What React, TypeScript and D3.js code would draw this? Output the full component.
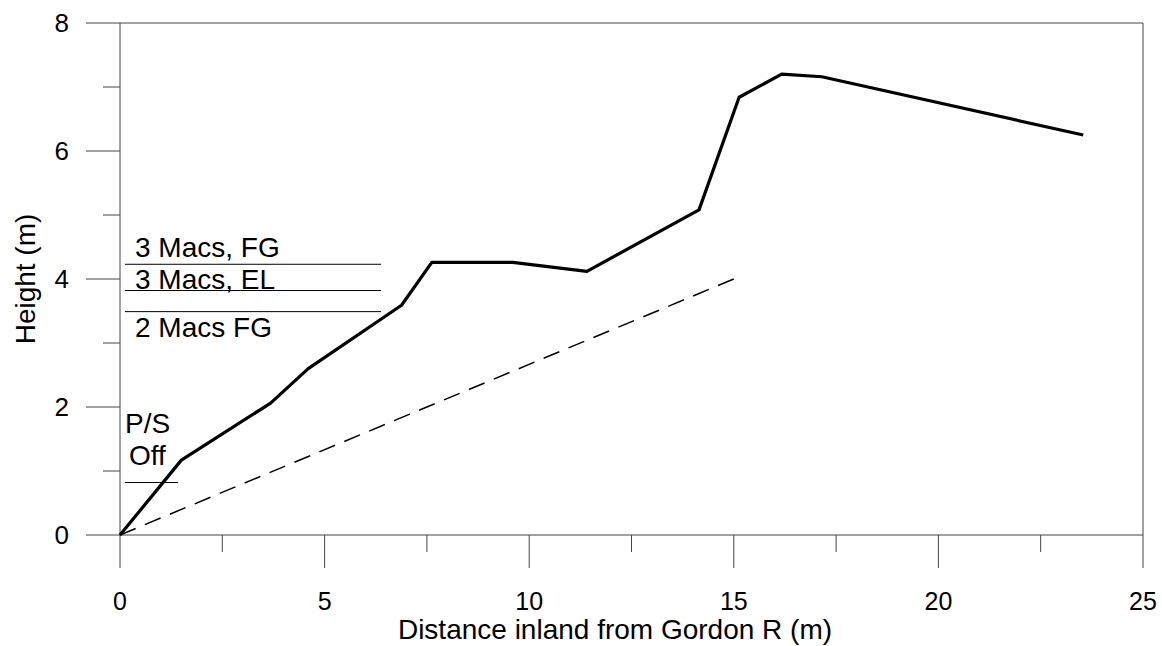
import React from 'react';
import * as d3 from 'd3';

// profile of the bank (distance, height)
const profileX = [0, 1.5, 3.68, 4.6, 6.88, 7.62, 9.6, 11.41, 14.15, 15.13, 16.17, 17.15, 23.54];
const profileY = [0, 1.17, 2.06, 2.6, 3.59, 4.26, 4.26, 4.12, 5.08, 6.84, 7.2, 7.16, 6.25];

// dashed reference line
const refX = [0, 15];
const refY = [0, 4];

// flood level markers
const markerLabels = ['3 Macs, FG', '3 Macs, EL', '2 Macs FG', 'P/S Off'];
const markerLevels = [4.23, 3.82, 3.49, 0.82];
const markerEnds = [6.38, 6.38, 6.38, 1.42];

const xMajor = [0, 5, 10, 15, 20, 25];
const xMinor = [2.5, 7.5, 12.5, 17.5, 22.5];
const yMajor = [0, 2, 4, 6, 8];
const yMinor = [1, 3, 5, 7];

const W = 1162;
const H = 646;
const font = 'Liberation Sans, Arial, sans-serif';
const fs = 28;

export default function App() {
  const x = d3.scaleLinear().domain([0, 25]).range([120, 1143]);
  const y = d3.scaleLinear().domain([0, 8]).range([535, 23]);

  const line = d3.line<[number, number]>()
    .x(d => x(d[0]))
    .y(d => y(d[1]));

  const profile = profileX.map((v, i) => [v, profileY[i]] as [number, number]);
  const ref = refX.map((v, i) => [v, refY[i]] as [number, number]);

  const axisCol = '#444';
  const x0 = x(0), y0 = y(0);

  return (
    <svg width={W} height={H} style={{ position: 'absolute', left: 0, top: 0, background: '#fff' }}
      fontFamily={font}>
      {/* frame */}
      <line x1={x0} x2={x0} y1={y(8)} y2={y0} stroke={axisCol} />
      <line x1={x(25)} x2={x(25)} y1={y(8)} y2={y0} stroke={axisCol} />
      <line x1={x0} x2={x(25)} y1={y0} y2={y0} stroke={axisCol} />
      <line x1={x0} x2={x(25)} y1={y(8)} y2={y(8)} stroke={axisCol} />

      {/* y ticks */}
      {yMajor.map(v => (
        <g key={'ym' + v}>
          <line x1={x0 - 34} x2={x0} y1={y(v)} y2={y(v)} stroke={axisCol} />
          <text x={69} y={y(v)} dy="0.36em" textAnchor="end" fontSize={26}>{v}</text>
        </g>
      ))}
      {yMinor.map(v => (
        <line key={'yn' + v} x1={x0 - 17} x2={x0} y1={y(v)} y2={y(v)} stroke={axisCol} />
      ))}

      {/* x ticks */}
      {xMajor.map(v => (
        <g key={'xm' + v}>
          <line x1={x(v)} x2={x(v)} y1={y0} y2={y0 + 33} stroke={axisCol} />
          <text x={x(v)} y={601} dy="0.36em" textAnchor="middle" fontSize={25}>{v}</text>
        </g>
      ))}
      {xMinor.map(v => (
        <line key={'xn' + v} x1={x(v)} x2={x(v)} y1={y0} y2={y0 + 17} stroke={axisCol} />
      ))}

      <text x={615} y={639} textAnchor="middle" fontSize={fs}>Distance inland from Gordon R (m)</text>
      <text transform={`translate(25,${y(4)}) rotate(-90)`} dy="0.36em" textAnchor="middle" fontSize={fs}>Height (m)</text>

      {/* marker lines */}
      {markerLevels.map((v, i) => (
        <line key={'mk' + i} x1={x(0.12)} x2={x(markerEnds[i])} y1={y(v)} y2={y(v)} stroke="#000" strokeWidth={1} />
      ))}
      <text x={135} y={257} fontSize={fs}>{markerLabels[0]}</text>
      <text x={135} y={289} fontSize={fs}>{markerLabels[1]}</text>
      <text x={135} y={337} fontSize={fs}>{markerLabels[2]}</text>
      <text x={125} y={433} fontSize={fs}>{markerLabels[3].split(' ')[0]}</text>
      <text x={129} y={465} fontSize={fs}>{markerLabels[3].split(' ')[1]}</text>

      {/* reference slope */}
      <path d={line(ref) || ''} fill="none" stroke="#000" strokeWidth={1.5} strokeDasharray="17,10" />

      {/* profile */}
      <path d={line(profile) || ''} fill="none" stroke="#000" strokeWidth={3.2} strokeLinejoin="round" />
    </svg>
  );
}
